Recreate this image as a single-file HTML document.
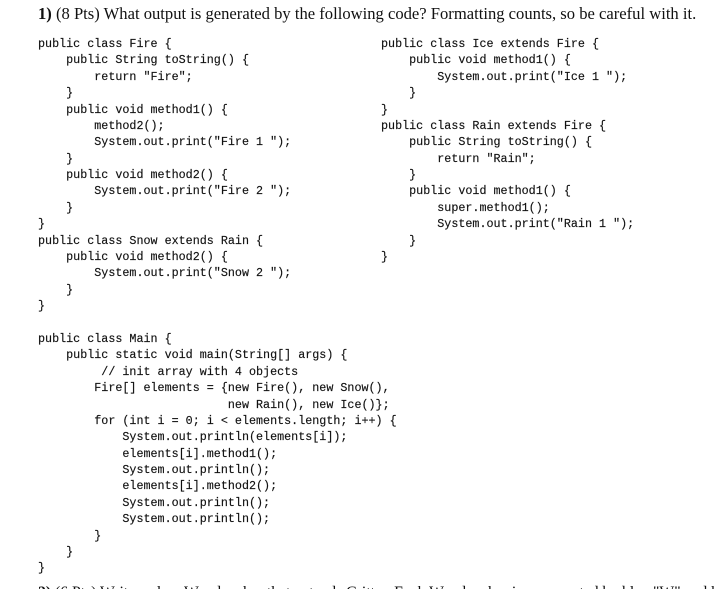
<!DOCTYPE html>
<html><head><meta charset="utf-8"><style>
html,body{margin:0;padding:0;background:#fff;width:721px;height:589px;overflow:hidden}
#w{position:relative;width:721px;height:589px;overflow:hidden;filter:blur(0.35px)}
pre{position:absolute;margin:0;font-family:"Liberation Mono",monospace;font-size:11.72px;line-height:16.37px;color:#111;-webkit-text-stroke:0.15px #111}
.t{position:absolute;white-space:pre;font-family:"Liberation Serif",serif;color:#111}
</style></head><body><div id="w">
<div class="t" style="left:38px;top:4px;font-size:16.6px;line-height:20px"><b>1)</b> (8 Pts) What output is generated by the following code? Formatting counts, so be careful with it.</div>
<pre style="left:38px;top:36px">public class Fire {
    public String toString() {
        return "Fire";
    }
    public void method1() {
        method2();
        System.out.print("Fire 1 ");
    }
    public void method2() {
        System.out.print("Fire 2 ");
    }
}
public class Snow extends Rain {
    public void method2() {
        System.out.print("Snow 2 ");
    }
}</pre>
<pre style="left:381px;top:36px">public class Ice extends Fire {
    public void method1() {
        System.out.print("Ice 1 ");
    }
}
public class Rain extends Fire {
    public String toString() {
        return "Rain";
    }
    public void method1() {
        super.method1();
        System.out.print("Rain 1 ");
    }
}</pre>
<pre style="left:38px;top:331px">public class Main {
    public static void main(String[] args) {
         // init array with 4 objects
        Fire[] elements = {new Fire(), new Snow(),
                           new Rain(), new Ice()};
        for (int i = 0; i &lt; elements.length; i++) {
            System.out.println(elements[i]);
            elements[i].method1();
            System.out.println();
            elements[i].method2();
            System.out.println();
            System.out.println();
        }
    }
}</pre>
<div class="t" style="left:38px;top:583px;font-size:15.7px;line-height:20px"><b>2)</b> (6 Pts) Write a class Woodpecker that extends Critter. Each Woodpecker is represented by blue "W" and h</div>
</div></body></html>
